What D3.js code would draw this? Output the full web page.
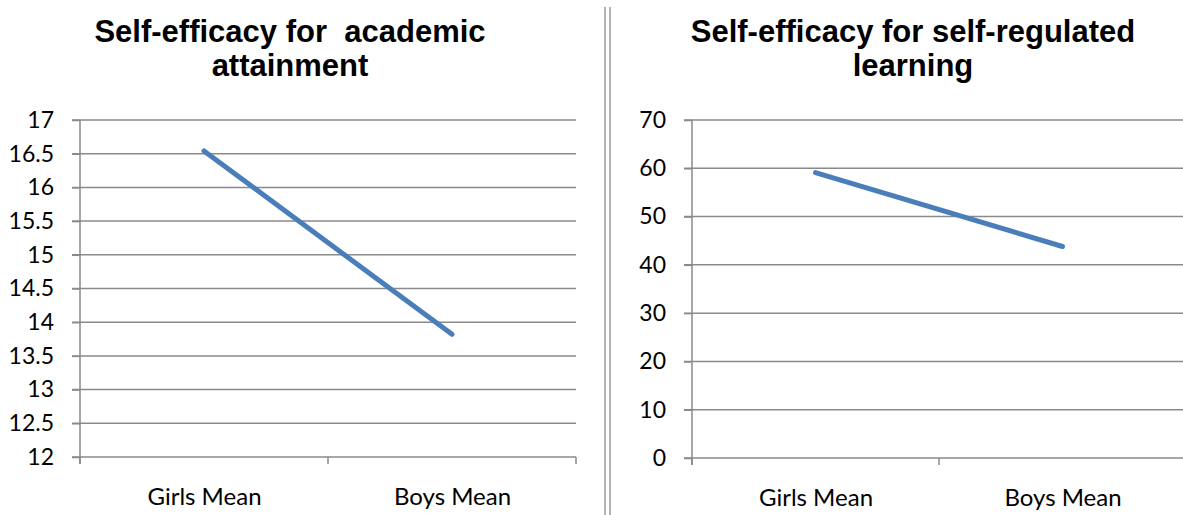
<!DOCTYPE html>
<head>
  <meta charset="utf-8">
  <style>
    body { margin: 0; background: #fff; }
    .tick text { font-family: Lato, "Open Sans", sans-serif; }
  </style>
</head>
<body>
  <div id="chart"></div>
  <script src="https://d3js.org/d3.v7.min.js"></script>
  <script>
    var categories = ["Girls Mean", "Boys Mean"]

    // left chart: academic attainment
    var academicTitle = ["Self-efficacy for  academic", "attainment"]
    var academicValues = [16.54, 13.82]
    var academicTicks = [12, 12.5, 13, 13.5, 14, 14.5, 15, 15.5, 16, 16.5, 17]

    // right chart: self-regulated learning
    var regulatedTitle = ["Self-efficacy for self-regulated", "learning"]
    var regulatedValues = [59.1, 43.8]
    var regulatedTicks = [0, 10, 20, 30, 40, 50, 60, 70]

    var width = 1183,
        height = 515

    var svg = d3.select("#chart").append("svg")
      .attr("width", width)
      .attr("height", height)

    var gridColor = "#8a8a8a"
    var lineColor = "#4a7ebb"

    function drawChart(opts) {
      var g = svg.append("g")

      var x = d3.scalePoint()
        .domain(categories)
        .range([opts.left, opts.right])
        .padding(0.5)

      var y = d3.scaleLinear()
        .domain(d3.extent(opts.ticks))
        .range([opts.bottom, opts.top])

      // title, two lines
      g.append("text")
        .attr("x", opts.titleX)
        .attr("text-anchor", "middle")
        .attr("font-family", "'Liberation Sans', Arial, sans-serif")
        .attr("font-weight", "bold")
        .attr("font-size", "31px")
        .attr("fill", "#000")
        .style("white-space", "pre")
        .selectAll("tspan")
        .data(opts.title)
        .join("tspan")
          .attr("x", opts.titleX)
          .attr("y", function(d, i) { return 42 + i * 34 })
          .text(function(d) { return d })

      // horizontal gridlines
      g.append("g")
        .selectAll("line")
        .data(opts.ticks)
        .join("line")
          .attr("x1", opts.left - 8)
          .attr("x2", opts.gridEnd)
          .attr("y1", function(d) { return y(d) })
          .attr("y2", function(d) { return y(d) })
          .attr("stroke", gridColor)
          .attr("stroke-width", 1.5)

      // y axis labels + ticks
      var yAxis = g.append("g")
        .attr("transform", "translate(" + opts.left + ",0)")
        .call(d3.axisLeft(y)
          .tickValues(opts.ticks)
          .tickSize(8)
          .tickPadding(18)
          .tickFormat(function(d) { return d }))
      yAxis.select(".domain").remove()
      yAxis.selectAll(".tick line").attr("stroke", gridColor).attr("stroke-width", 1.5)
      yAxis.selectAll(".tick text").attr("font-size", "23px").attr("fill", "#000")

      // vertical axis line
      g.append("line")
        .attr("x1", opts.left).attr("x2", opts.left)
        .attr("y1", opts.top).attr("y2", opts.bottom + 7)
        .attr("stroke", gridColor)
        .attr("stroke-width", 1.5)

      // category ticks at band edges
      var step = x.step()
      var edges = [opts.left, opts.left + step, opts.left + 2 * step]
      g.append("g")
        .selectAll("line")
        .data(edges)
        .join("line")
          .attr("x1", function(d) { return d })
          .attr("x2", function(d) { return d })
          .attr("y1", opts.bottom)
          .attr("y2", opts.bottom + 7)
          .attr("stroke", gridColor)
          .attr("stroke-width", 1.5)

      // category labels
      var xAxis = g.append("g")
        .attr("transform", "translate(0," + opts.bottom + ")")
        .call(d3.axisBottom(x).tickSize(0).tickPadding(31))
      xAxis.select(".domain").remove()
      xAxis.selectAll(".tick text").attr("font-size", "24px").attr("fill", "#000")

      // data line
      var line = d3.line()
        .x(function(d, i) { return x(categories[i]) })
        .y(function(d) { return y(d) })

      g.append("path")
        .datum(opts.values)
        .attr("d", line)
        .attr("fill", "none")
        .attr("stroke", lineColor)
        .attr("stroke-width", 5)
        .attr("stroke-linecap", "round")
    }

    drawChart({
      title: academicTitle, titleX: 290,
      values: academicValues, ticks: academicTicks,
      left: 80, right: 576, gridEnd: 576, top: 120, bottom: 457
    })

    drawChart({
      title: regulatedTitle, titleX: 913,
      values: regulatedValues, ticks: regulatedTicks,
      left: 692, right: 1186, gridEnd: 1190, top: 120, bottom: 458
    })

    // double divider between the charts
    svg.append("g")
      .selectAll("line")
      .data([605, 610])
      .join("line")
        .attr("x1", function(d) { return d })
        .attr("x2", function(d) { return d })
        .attr("y1", 7)
        .attr("y2", height)
        .attr("stroke", "#9a9a9a")
        .attr("stroke-width", 1.5)
  </script>
</body>
